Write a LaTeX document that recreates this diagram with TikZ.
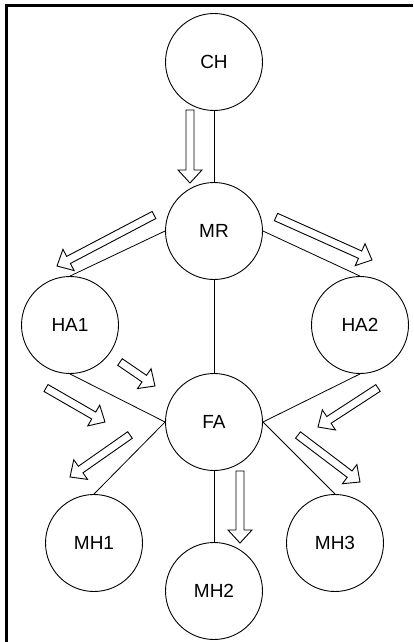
\documentclass[tikz,border=0pt]{standalone}
\usepackage{fontspec}
\setmainfont{Liberation Sans}
\usetikzlibrary{calc}
\newcommand\rad{48.5}
% hollow block arrow from #1 to #2
\newcommand\flow[2]{%
	\draw [line width=0.9pt] let \p1=($(#2)-(#1)$), \n1={atan2(\y1,\x1)}, \n2={veclen(\x1,\y1)} in
		[shift={(#1)}, rotate=\n1] (0,4) -- (\n2-13,4) -- (\n2-13,12) -- (\n2,0)
		-- (\n2-13,-12) -- (\n2-13,-4) -- (0,-4) -- cycle;
}

\begin{document}
\begin{tikzpicture}[x=1pt,y=-1pt,
	station/.style={circle, draw, line width=0.9pt, minimum size=2*\rad pt, inner sep=0pt,
		font=\fontsize{19}{22}\selectfont},
	link/.style={line width=0.8pt}]
\useasboundingbox (0,0) rectangle (413,642);
\draw [line width=2.6pt](6.5,642) -- (6.5,5.5) -- (413,5.5);

\node[station] (ch) at (214,62) {CH};
\node[station] (mr) at (214,231) {MR};
\node[station] (ha1) at (70,325) {HA1};
\node[station] (ha2) at (360,325) {HA2};
\node[station] (fa) at (214,422) {FA};
\node[station] (mh1) at (94,543) {MH1};
\node[station] (mh2) at (214,591) {MH2};
\node[station] (mh3) at (335,543) {MH3};

\draw [link](ch.south) -- (mr.north);
\draw [link](mr.west) -- (ha1.north);
\draw [link](mr.east) -- (ha2.north);
\draw [link](mr.south) -- (fa.north);
\draw [link](ha1.south) -- (fa.west);
\draw [link](ha2.south) -- (fa.east);
\draw [link](fa.west) -- (mh1.north);
\draw [link](fa.east) -- (mh3.north);
\draw [link](fa.south) -- (mh2.north);

\foreach \ax/\ay/\bx/\by in {190/110/190/183, 154/215/57/266, 276/217/372/260,
	120/362/155/386, 46/388/105/422, 378/388/318/427,
	130/435/70/477, 298/435/360/482, 240/471/240/543} {
	\flow{\ax,\ay}{\bx,\by}
}
\end{tikzpicture}
\end{document}
